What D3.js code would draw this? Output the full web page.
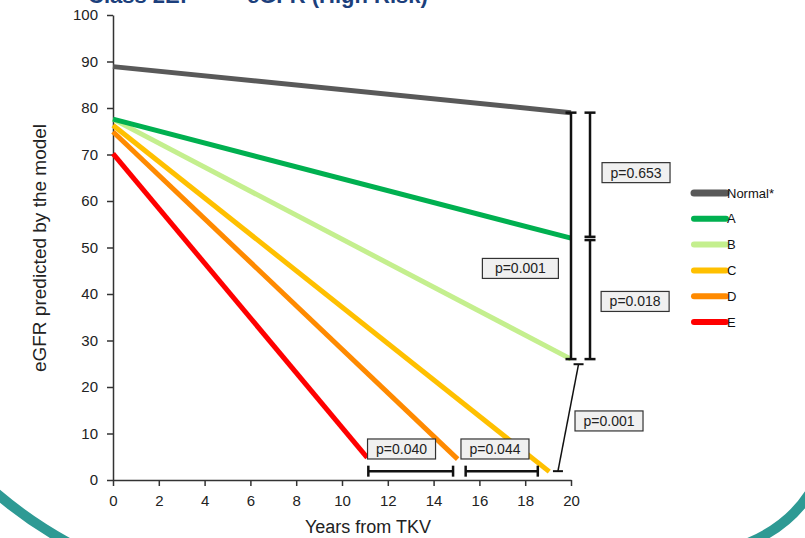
<!DOCTYPE html>
<html>
<head>
  <script src="https://cdn.jsdelivr.net/npm/d3@7"></script>
  <style>
    body { margin: 0; background: #fff; font-family: Arial, "Liberation Sans", sans-serif; }
    svg { display: block; }
  </style>
</head>
<body>
  <div id="chart"></div>
  <script>
    // series: each group is a straight line from year 0 to its end year
    const seriesNames = ["Normal*", "A", "B", "C", "D", "E"];
    const seriesColors = ["#595959", "#00b050", "#c4ef8e", "#ffc000", "#ff8a00", "#ff0000"];
    const startYears = [0, 0, 0, 0, 0, 0];
    const startValues = [88.9, 77.6, 77.6, 76.3, 74.9, 70.2];
    const endYears = [20, 20, 20, 19.05, 15.05, 11.1];
    const endValues = [79, 52, 26, 1.8, 4.5, 4.8];

    const xTicks = [0, 2, 4, 6, 8, 10, 12, 14, 16, 18, 20];
    const yTicks = [0, 10, 20, 30, 40, 50, 60, 70, 80, 90, 100];

    // significance brackets
    const vBars = [
      { x: 20, y0: 79, y1: 26 },
      { x: 20.83, y0: 79, y1: 52.3 },
      { x: 20.83, y0: 51.6, y1: 26 }
    ];
    const hBars = [
      { y: 1.9, x0: 11.15, x1: 14.85 },
      { y: 1.9, x0: 15.4, x1: 18.55 }
    ];
    const diagBar = { x0: 20.33, y0: 24.9, x1: 19.43, y1: 1.9 };
    const pTexts = ["p=0.653", "p=0.001", "p=0.018", "p=0.001", "p=0.040", "p=0.044"];
    const pX = [22.84, 17.79, 22.8, 21.66, 12.6, 16.68];
    const pY = [66.1, 45.5, 38.4, 12.7, 6.67, 6.67];

    const width = 805, height = 538;
    const svg = d3.select("#chart").append("svg")
      .attr("width", width).attr("height", height);

    const x = d3.scaleLinear().domain([0, 20]).range([113, 571]);
    const y = d3.scaleLinear().domain([0, 100]).range([480, 15]);

    // decorative slide arcs
    svg.append("path")
      .attr("d", "M -12,486 Q 28,522 78,548")
      .attr("fill", "none").attr("stroke", "#2e9a94").attr("stroke-width", 10);
    svg.append("path")
      .attr("d", "M 818,478 Q 795,528 735,548")
      .attr("fill", "none").attr("stroke", "#2e9a94").attr("stroke-width", 10);

    // slide title, clipped by the top edge as in the source
    const title = svg.append("g")
      .style("font", "bold 22px Arial, 'Liberation Sans', sans-serif")
      .attr("fill", "#1c3f7c");
    title.append("text").attr("x", 88).attr("y", 3).text("Class 2E:");
    title.append("text").attr("x", 247).attr("y", 3).text("eGFR (High Risk)");

    // axes
    const yAxis = svg.append("g")
      .attr("transform", `translate(${x(0)},0)`)
      .call(d3.axisLeft(y).tickValues(yTicks).tickSize(6).tickSizeOuter(0).tickPadding(9));
    const xAxis = svg.append("g")
      .attr("transform", `translate(0,${y(0)})`)
      .call(d3.axisBottom(x).tickValues(xTicks).tickSize(6).tickSizeOuter(0).tickPadding(9));
    [yAxis, xAxis].forEach(g => {
      g.selectAll("path, line").attr("stroke", "#333").attr("stroke-width", 1.5);
      g.selectAll("text").attr("fill", "#222").style("font-size", "15px")
        .style("font-family", "Arial, 'Liberation Sans', sans-serif");
    });

    svg.append("text")
      .attr("transform", "translate(46,248) rotate(-90)")
      .attr("text-anchor", "middle")
      .style("font-size", "19px").attr("fill", "#222")
      .text("eGFR predicted by the model");
    svg.append("text")
      .attr("x", 368).attr("y", 533)
      .attr("text-anchor", "middle")
      .style("font-size", "18px").attr("fill", "#222")
      .text("Years from TKV");

    // series lines
    const rows = seriesNames.map((name, i) => ({
      name, color: seriesColors[i],
      pts: [[startYears[i], startValues[i]], [endYears[i], endValues[i]]]
    }));
    const line = d3.line().x(d => x(d[0])).y(d => y(d[1]));
    svg.append("g")
      .selectAll("path")
      .data(rows.slice().reverse())
      .join("path")
      .attr("d", d => line(d.pts))
      .attr("fill", "none")
      .attr("stroke", d => d.color)
      .attr("stroke-width", 5);

    // brackets
    const br = svg.append("g").attr("stroke", "#111").attr("stroke-width", 2.5).attr("fill", "none");
    vBars.forEach(b => {
      br.append("line").attr("x1", x(b.x)).attr("x2", x(b.x)).attr("y1", y(b.y0)).attr("y2", y(b.y1));
      [b.y0, b.y1].forEach(v => br.append("line")
        .attr("x1", x(b.x) - 5.5).attr("x2", x(b.x) + 5.5).attr("y1", y(v)).attr("y2", y(v)));
    });
    hBars.forEach(b => {
      br.append("line").attr("x1", x(b.x0)).attr("x2", x(b.x1)).attr("y1", y(b.y)).attr("y2", y(b.y));
      [b.x0, b.x1].forEach(v => br.append("line")
        .attr("x1", x(v)).attr("x2", x(v)).attr("y1", y(b.y) - 5.5).attr("y2", y(b.y) + 5.5));
    });
    br.append("line")
      .attr("x1", x(diagBar.x0)).attr("y1", y(diagBar.y0))
      .attr("x2", x(diagBar.x1)).attr("y2", y(diagBar.y1))
      .attr("stroke-width", 1.5);
    [[diagBar.x0, diagBar.y0], [diagBar.x1, diagBar.y1]].forEach(([a, b]) => br.append("line")
      .attr("x1", x(a) - 5).attr("x2", x(a) + 5).attr("y1", y(b)).attr("y2", y(b)).attr("stroke-width", 2));

    // p-value boxes
    const pg = svg.append("g").selectAll("g")
      .data(pTexts.map((t, i) => ({ t, cx: x(pX[i]), cy: y(pY[i]) })))
      .join("g")
      .attr("transform", d => `translate(${d.cx},${d.cy})`);
    pg.append("rect")
      .attr("x", (d, i) => i === 1 ? -38 : -34).attr("y", -10)
      .attr("width", (d, i) => i === 1 ? 76 : 68).attr("height", 20)
      .attr("fill", "#f0f0f0").attr("stroke", "#333").attr("stroke-width", 1.2);
    pg.append("text")
      .attr("text-anchor", "middle").attr("dy", "0.36em")
      .style("font-size", "14px").attr("fill", "#222")
      .text(d => d.t);

    // legend
    const lg = svg.append("g").selectAll("g")
      .data(rows)
      .join("g")
      .attr("transform", (d, i) => `translate(692,${193 + i * 25.8})`);
    lg.append("line")
      .attr("x1", 2).attr("x2", 34)
      .attr("stroke", d => d.color)
      .attr("stroke-width", (d, i) => i === 0 ? 7 : 6)
      .attr("stroke-linecap", "round");
    lg.append("text")
      .attr("x", 35).attr("dy", "0.35em")
      .style("font-size", "13px").attr("fill", "#111")
      .text(d => d.name);
  </script>
</body>
</html>
